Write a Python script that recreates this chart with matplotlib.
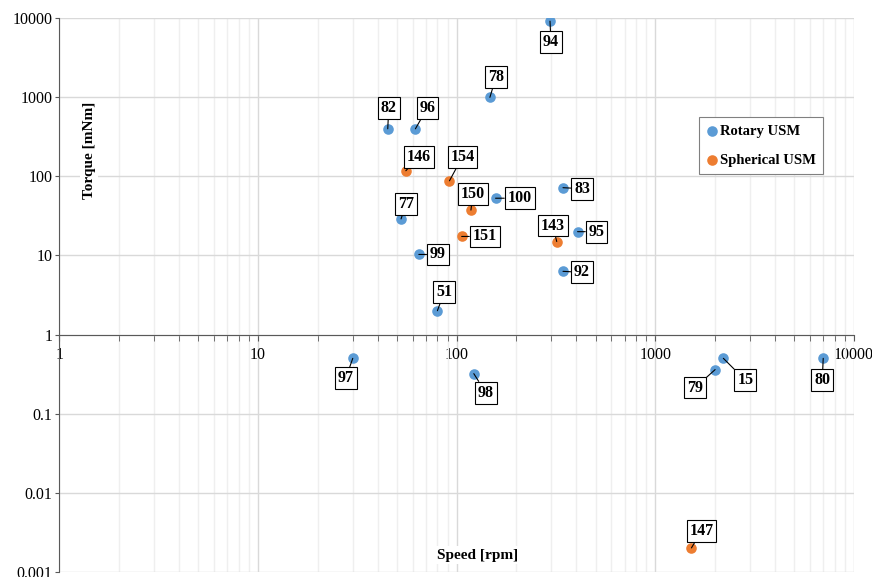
import matplotlib
matplotlib.use("Agg")
import matplotlib.pyplot as plt
from matplotlib.ticker import LogLocator, FixedLocator, NullFormatter

plt.rcParams['font.family'] = ['Liberation Serif', 'DejaVu Serif']

# --- dados ---
rotary_ids = ["94", "78", "82", "96", "100", "83", "77", "95", "99", "92", "51",
              "97", "98", "15", "79", "80"]
rotary_speed = [295, 147, 45, 62, 157, 343, 52.5, 406, 64.5, 343, 80,
                30, 122, 2200, 2000, 7000]
rotary_torque = [9200, 1000, 400, 400, 53, 72, 29, 20, 10.3, 6.3, 2,
                 0.5, 0.32, 0.5, 0.36, 0.5]

spherical_ids = ["146", "154", "150", "143", "151", "147"]
spherical_speed = [55.5, 92, 118, 319, 106, 1520]
spherical_torque = [118, 88, 37.5, 15, 17.4, 0.002]

# deslocamento das etiquetas (pixels: dx para a direita, dy para baixo)
label_offsets = {
    "94": (1, 21), "78": (6, -20), "82": (1, -21), "96": (12, -21),
    "100": (24, 0), "83": (19, 1), "77": (5, -15), "95": (19, 0),
    "99": (19, 0), "92": (19, 1), "51": (7, -19), "97": (-7, 20),
    "98": (12, 19), "15": (22, 22), "79": (-20, 18), "80": (-1, 22),
    "146": (13, -14), "154": (13, -24), "150": (2, -16), "143": (-4, -16),
    "151": (23, 0), "147": (10, -17),
}

BLUE = '#5B9BD5'
ORANGE = '#ED7D31'

fig = plt.figure(figsize=(8.72, 5.77), dpi=100)
ax = fig.add_axes([59.3 / 872, 1 - 571.7 / 577, (854 - 59.3) / 872, (571.7 - 18.3) / 577])

ax.scatter(rotary_speed, rotary_torque, s=58, color=BLUE, zorder=3, label='Rotary USM', linewidths=0)
ax.scatter(spherical_speed, spherical_torque, s=58, color=ORANGE, zorder=3, label='Spherical USM', linewidths=0)

ax.set_xscale('log')
ax.set_yscale('log')
ax.set_xlim(1, 10000)
ax.set_ylim(0.001, 10000)

# eixos / grades
ax.spines['top'].set_visible(False)
ax.spines['right'].set_visible(False)
ax.spines['bottom'].set_position(('data', 1))
ax.spines['bottom'].set_color('#595959')
ax.spines['left'].set_color('#595959')

ax.xaxis.set_minor_locator(LogLocator(base=10, subs=range(2, 10), numticks=20))
ax.xaxis.set_minor_formatter(NullFormatter())
ax.set_xticks([1, 10, 100, 1000, 10000])
ax.set_xticklabels(["1", "10", "100", "1000", "10000"])
ax.set_yticks([0.001, 0.01, 0.1, 1, 10, 100, 1000, 10000])
ax.set_yticklabels(["0.001", "0.01", "0.1", "1", "10", "100", "1000", "10000"])
ax.yaxis.set_minor_locator(FixedLocator([]))

ax.tick_params(axis='x', which='both', direction='out', length=4, color='#595959', labelsize=11.5, pad=5)
ax.tick_params(axis='y', which='major', direction='out', length=3, color='#595959', labelsize=11.5, pad=2)

ax.grid(which='major', axis='both', color='#d9d9d9', lw=1, zorder=0)
ax.grid(which='minor', axis='x', color='#efefef', lw=1, zorder=0)
ax.set_axisbelow(True)

# rótulos dos eixos (dentro da área)
fig.text(89 / 872, 1 - 150 / 577, "Torque [mNm]", rotation=90, ha='center', va='center',
         fontsize=11, weight='bold', bbox=dict(facecolor='white', edgecolor='none', pad=2))
fig.text(478 / 872, 1 - 555 / 577, "Speed [rpm]", ha='center', va='center',
         fontsize=11, weight='bold', bbox=dict(facecolor='white', edgecolor='none', pad=2))

# etiquetas de chamada
def callouts(ids, xs, ys):
    for lab, x, y in zip(ids, xs, ys):
        dx, dy = label_offsets[lab]
        ax.annotate(lab, (x, y), xytext=(dx * 0.72, -dy * 0.72), textcoords='offset points',
                    ha='center', va='center', fontsize=11.5, weight='bold', zorder=4,
                    bbox=dict(boxstyle='square,pad=0.18', facecolor='white', edgecolor='black', lw=0.8),
                    arrowprops=dict(arrowstyle='-', color='black', lw=0.8, shrinkA=0, shrinkB=0))

callouts(rotary_ids, rotary_speed, rotary_torque)
callouts(spherical_ids, spherical_speed, spherical_torque)

leg = ax.legend(loc='upper left', bbox_to_anchor=(699 / 872, 1 - 117.3 / 577), bbox_transform=fig.transFigure,
                borderaxespad=0, frameon=True, fancybox=False, edgecolor='#808080', framealpha=1,
                handletextpad=0.15, handlelength=0.8, labelspacing=1.1, borderpad=0.5,
                prop={'weight': 'bold', 'size': 10.5}, markerscale=1.0)
leg.get_frame().set_linewidth(0.8)

fig.savefig("out.png", dpi=100)
